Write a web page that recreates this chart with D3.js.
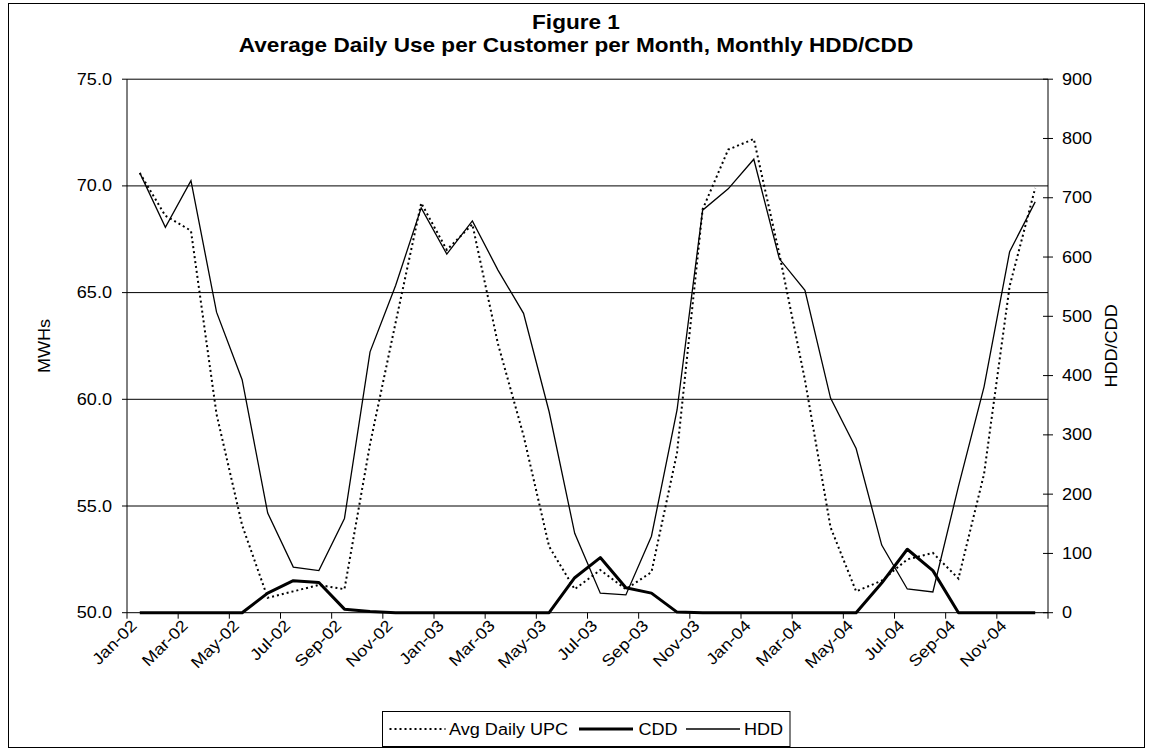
<!DOCTYPE html>
<html><head><meta charset="utf-8">
<script src="https://cdn.jsdelivr.net/npm/d3@7"></script>
<style>
body{margin:0;background:#fff}
svg{display:block}
text{font-family:Arial,"Liberation Sans",sans-serif;fill:#000}
</style>
</head><body>
<svg id="chart" width="1149" height="750"></svg>
<script>
// ---- data ----
const months = ["Jan-02","Feb-02","Mar-02","Apr-02","May-02","Jun-02","Jul-02","Aug-02","Sep-02","Oct-02","Nov-02","Dec-02",
                "Jan-03","Feb-03","Mar-03","Apr-03","May-03","Jun-03","Jul-03","Aug-03","Sep-03","Oct-03","Nov-03","Dec-03",
                "Jan-04","Feb-04","Mar-04","Apr-04","May-04","Jun-04","Jul-04","Aug-04","Sep-04","Oct-04","Nov-04","Dec-04"];
const avgDailyUPC = [70.6,68.6,67.9,59.3,54.1,50.7,51.0,51.3,51.1,57.9,63.6,69.2,
                     67.0,68.2,62.6,58.3,53.1,51.1,52.0,51.1,51.9,57.5,68.9,71.7,
                     72.2,66.8,60.9,54.0,51.0,51.5,52.5,52.8,51.6,56.5,65.3,69.9];
const cddValues = [0,0,0,0,0,33,54,51,6,2,0,0,
                   0,0,0,0,0,59,93,42,33,1,0,0,
                   0,0,0,0,0,50,107,71,0,0,0,0];
const hddValues = [742,650,729,507,393,168,77,71,159,440,552,683,
                   605,661,578,505,339,134,33,30,129,342,679,715,
                   765,597,544,362,277,114,40,35,213,381,609,693];
const leftTicks = [50,55,60,65,70,75];
const rightTicks = [0,100,200,300,400,500,600,700,800,900];
const seriesNames = ["Avg Daily UPC","CDD","HDD"];
const titleLines = ["Figure 1","Average Daily Use per Customer per Month, Monthly HDD/CDD"];
const leftTitle = "MWHs", rightTitle = "HDD/CDD";

// ---- layout ----
const plot = {l:127, r:1048, t:79.2, b:612.7};
const SX = 1.13; // horizontal text stretch
const svg = d3.select("#chart");

function T(g, str, x, y, o={}) {
  return g.append("text")
    .attr("transform", `translate(${x},${y}) rotate(${o.rot||0}) scale(${SX},1)`)
    .attr("text-anchor", o.anchor || "start")
    .style("font-size", (o.size||16) + "px")
    .style("font-weight", o.weight || "normal")
    .text(str);
}

// outer border
svg.append("rect").attr("x",8.5).attr("y",3.5).attr("width",1136).attr("height",744)
  .attr("fill","#fff").attr("stroke","#000").attr("stroke-width",1);

const x = d3.scaleBand().domain(months).range([plot.l, plot.r]).padding(0);
const xc = m => x(m) + x.bandwidth()/2;
const yL = d3.scaleLinear().domain([50,75]).range([plot.b, plot.t]);
const yR = d3.scaleLinear().domain([0,900]).range([plot.b, plot.t]);

// gridlines
svg.append("g").selectAll("line").data(leftTicks.filter(v=>v>50)).join("line")
  .attr("x1",plot.l).attr("x2",plot.r).attr("y1",d=>yL(d)).attr("y2",d=>yL(d))
  .attr("stroke","#000").attr("stroke-width",1);

// left axis
const gl = svg.append("g");
gl.append("line").attr("x1",plot.l).attr("x2",plot.l).attr("y1",plot.t).attr("y2",plot.b).attr("stroke","#000");
leftTicks.forEach(v=>{
  gl.append("line").attr("x1",plot.l-5).attr("x2",plot.l).attr("y1",yL(v)).attr("y2",yL(v)).attr("stroke","#000");
  T(gl, d3.format(".1f")(v), plot.l-15, yL(v)+5.5, {anchor:"end"});
});
// right axis
const gr = svg.append("g");
gr.append("line").attr("x1",plot.r).attr("x2",plot.r).attr("y1",plot.t).attr("y2",plot.b).attr("stroke","#000");
rightTicks.forEach(v=>{
  gr.append("line").attr("x1",plot.r-5).attr("x2",plot.r+5).attr("y1",yR(v)).attr("y2",yR(v)).attr("stroke","#000");
  T(gr, String(v), plot.r+14, yR(v)+5.5, {anchor:"start"});
});
// bottom axis
const gb = svg.append("g");
gb.append("line").attr("x1",plot.l).attr("x2",plot.r).attr("y1",plot.b).attr("y2",plot.b).attr("stroke","#000");
months.forEach((m,i)=>{
  if (i % 2 === 0) {
    gb.append("line").attr("x1",x(m)).attr("x2",x(m)).attr("y1",plot.b).attr("y2",plot.b+6).attr("stroke","#000");
    T(gb, m, xc(m)-2, plot.b+14, {anchor:"end", rot:-45});
  }
});
gb.append("line").attr("x1",plot.r).attr("x2",plot.r).attr("y1",plot.b).attr("y2",plot.b+6).attr("stroke","#000");

// axis titles
T(svg, leftTitle, 49.5, (plot.t+plot.b)/2, {anchor:"middle", rot:-90});
T(svg, rightTitle, 1116.5, (plot.t+plot.b)/2, {anchor:"middle", rot:-90});

// titles
T(svg, titleLines[0], 576, 29, {anchor:"middle", weight:"bold", size:20});
T(svg, titleLines[1], 576, 51.5, {anchor:"middle", weight:"bold", size:20});

// series
const lineL = d3.line().x((d,i)=>xc(months[i])).y(d=>yL(d));
const lineR = d3.line().x((d,i)=>xc(months[i])).y(d=>yR(d));
const styles = [
  {w:2, dash:"2,3"},
  {w:3, dash:null},
  {w:1.3, dash:null}
];
svg.append("path").attr("d", lineR(hddValues)).attr("fill","none").attr("stroke","#000")
  .attr("stroke-width",styles[2].w).attr("stroke-linejoin","miter");
svg.append("path").attr("d", lineR(cddValues)).attr("fill","none").attr("stroke","#000")
  .attr("stroke-width",styles[1].w).attr("stroke-linejoin","round");
svg.append("path").attr("d", lineL(avgDailyUPC)).attr("fill","none").attr("stroke","#000")
  .attr("stroke-width",styles[0].w).attr("stroke-dasharray",styles[0].dash);

// legend
const lg = svg.append("g");
lg.append("rect").attr("x",382.5).attr("y",711.5).attr("width",407.5).attr("height",35)
  .attr("fill","#fff").attr("stroke","#000");
const legItems = [
  {x1:389.5, x2:445.5, tx:449},
  {x1:579, x2:633, tx:638.5},
  {x1:686, x2:740, tx:744}
];
legItems.forEach((it,i)=>{
  const ln = lg.append("line").attr("x1",it.x1).attr("x2",it.x2).attr("y1",729).attr("y2",729)
    .attr("stroke","#000").attr("stroke-width",styles[i].w);
  if (styles[i].dash) ln.attr("stroke-dasharray",styles[i].dash);
  T(lg, seriesNames[i], it.tx, 735, {anchor:"start"});
});
</script>
</body></html>
